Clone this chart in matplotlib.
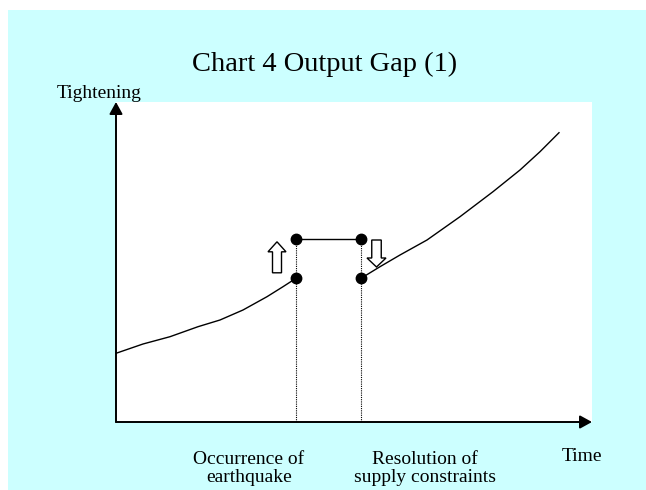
import numpy as np
import matplotlib.pyplot as plt
from matplotlib.patches import Rectangle, FancyArrow

# ---- data (time units along x, output-gap units along y) ----
t_before = [0, 27, 54, 82, 104, 127, 151, 167, 180]
gap_before = [68.7, 78, 85.3, 95.3, 102, 112, 125.3, 135.3, 143.7]
t_after = [245, 264, 284, 311, 344, 377, 404, 424, 443]
gap_after = [143.7, 155.3, 167, 182, 205.3, 230.3, 252, 270.3, 289.3]
t_quake, t_resolve = 180, 245
gap_normal, gap_shock = 143.7, 183

title = "Chart 4 Output Gap (1)"
ylabel = "Tightening"
xlabel = "Time"
event_labels = ["Occurrence of\nearthquake", "Resolution of\nsupply constraints"]

plt.rcParams['font.family'] = ['Liberation Serif', 'DejaVu Serif']

W, H = 646, 490
fig = plt.figure(figsize=(W / 100, H / 100), dpi=100)
fig.patch.set_facecolor('white')
fig.add_artist(Rectangle((8 / W, 0), 1 - 8 / W, (H - 10) / H, transform=fig.transFigure,
                         facecolor='#CCFFFF', edgecolor='none', zorder=0))

ax = fig.add_axes([116 / W, 68 / H, 476 / W, 320 / H])
ax.set_facecolor('white')
ax.set_xlim(0, 476)
ax.set_ylim(0, 320)
ax.set_xticks([])
ax.set_yticks([])
for s in ax.spines.values():
    s.set_visible(False)

# axes with arrow heads
arr = dict(arrowstyle='-|>,head_length=0.4,head_width=0.22', mutation_scale=18,
           lw=1.4, color='black', shrinkA=0, shrinkB=0)
ax.annotate('', xy=(0, 320), xytext=(0, 0), arrowprops=arr, annotation_clip=False)
ax.annotate('', xy=(476, 0), xytext=(0, 0), arrowprops=arr, annotation_clip=False)

# gap path
ax.plot(t_before, gap_before, color='black', lw=1.0, clip_on=False)
ax.plot(t_after, gap_after, color='black', lw=1.0, clip_on=False)
ax.plot([t_quake, t_resolve], [gap_shock, gap_shock], color='black', lw=1.0)

# dotted verticals
for t in (t_quake, t_resolve):
    ax.plot([t, t], [0, gap_shock], color='black', lw=0.8, ls=(0, (1, 1)))

ax.plot([t_quake, t_quake, t_resolve, t_resolve],
        [gap_normal, gap_shock, gap_shock, gap_normal],
        ls='none', marker='o', ms=7.5, color='black', zorder=5)

# hollow block arrows
ax.add_patch(FancyArrow(t_quake - 19, gap_normal + 5.5, 0, 31, width=9, head_width=18,
                        head_length=10, length_includes_head=True,
                        facecolor='white', edgecolor='black', lw=1.0))
ax.add_patch(FancyArrow(t_resolve + 15.5, gap_shock - 1, 0, -27, width=9.5, head_width=19,
                        head_length=9, length_includes_head=True,
                        facecolor='white', edgecolor='black', lw=1.0))

# texts
fig.text(325 / W, 1 - 71 / H, title, ha='center', va='baseline', fontsize=20.5)
fig.text(99 / W, 1 - 98 / H, ylabel, ha='center', va='baseline', fontsize=14)
fig.text(582 / W, 1 - 461 / H, xlabel, ha='center', va='baseline', fontsize=14)
fig.text(249 / W, 1 - 481.5 / H, event_labels[0], ha='center', va='baseline',
         fontsize=14, linespacing=1.05, multialignment='center')
fig.text(425 / W, 1 - 481.5 / H, event_labels[1], ha='center', va='baseline',
         fontsize=14, linespacing=1.05, multialignment='center')

fig.savefig('out.png', dpi=100)
